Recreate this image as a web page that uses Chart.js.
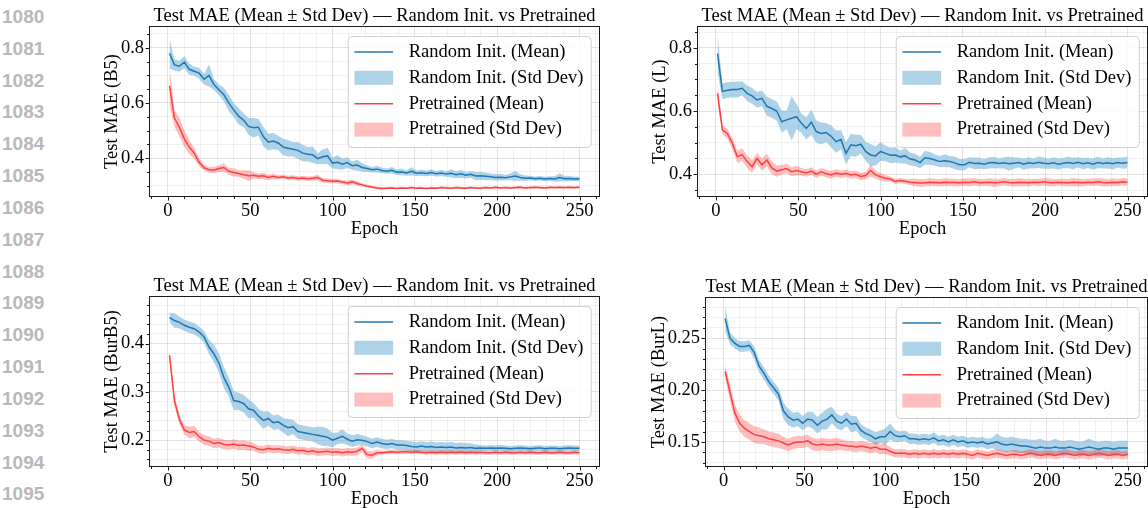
<!DOCTYPE html>
<html>
<head>
<meta charset="utf-8">
<script src="https://cdn.jsdelivr.net/npm/chart.js@4.4.1/dist/chart.umd.min.js"></script>
<style>
  html, body { margin: 0; padding: 0; background: #fff; }
  body { width: 1148px; height: 508px; overflow: hidden; position: relative; }
  canvas { position: absolute; }
  .lineno { position: absolute; left: 2px; font: bold 19px "Liberation Sans", Arial, sans-serif; color: #b8b8b8; line-height: 19px; }
</style>
</head>
<body>
<script>
// epochs sampled every 3rd epoch
const epochs = [1,4,7,10,13,16,19,22,25,28,31,34,
  37,40,43,46,49,52,55,58,61,64,67,70,
  73,76,79,82,85,88,91,94,97,100,103,106,
  109,112,115,118,121,124,127,130,133,136,139,142,
  145,148,151,154,157,160,163,166,169,172,175,178,
  181,184,187,190,193,196,199,202,205,208,211,214,
  217,220,223,226,229,232,235,238,241,244,247,250];

const lineNumbers = [1080,1081,1082,1083,1084,1085,1086,1087,1088,1089,1090,1091,1092,1093,1094,1095];

const xTicks = [0, 50, 100, 150, 200, 250];

// ---- B5 ----
const b5RandMean = [.780,.738,.733,.748,.722,.715,.708,.686,.700,.667,.648,.630,
  .600,.575,.552,.538,.515,.510,.512,.478,.458,.462,.455,.440,
  .436,.432,.428,.418,.414,.412,.398,.405,.408,.382,.385,.378,
  .384,.372,.375,.366,.362,.358,.360,.355,.352,.356,.349,.350,
  .346,.352,.345,.347,.344,.348,.343,.346,.342,.345,.340,.343,
  .338,.341,.335,.336,.334,.332,.330,.331,.329,.332,.335,.330,
  .327,.328,.325,.327,.324,.326,.324,.330,.325,.326,.324,.325];
const b5RandStd = [.055,.020,.020,.022,.020,.016,.020,.020,.040,.020,.020,.025,
  .030,.026,.030,.025,.030,.035,.030,.036,.030,.030,.026,.030,
  .030,.026,.030,.030,.026,.030,.020,.026,.030,.020,.025,.020,
  .020,.015,.020,.015,.012,.010,.012,.010,.010,.012,.010,.012,
  .010,.015,.010,.012,.010,.012,.010,.012,.010,.015,.012,.015,
  .012,.012,.015,.015,.014,.012,.012,.012,.010,.012,.018,.012,
  .010,.008,.008,.008,.008,.008,.010,.015,.010,.010,.008,.008];
const b5PreMean = [.662,.545,.512,.470,.440,.418,.385,.365,.358,.357,.362,.366,
  .352,.348,.344,.340,.336,.338,.334,.336,.330,.334,.330,.332,
  .328,.330,.326,.328,.325,.327,.330,.320,.318,.316,.317,.313,
  .310,.314,.308,.303,.298,.295,.292,.290,.291,.292,.290,.292,
  .291,.293,.291,.292,.290,.292,.291,.293,.292,.291,.293,.292,
  .291,.293,.292,.291,.293,.292,.294,.292,.293,.292,.293,.294,
  .292,.293,.294,.293,.292,.294,.293,.294,.293,.294,.293,.294];
const b5PreStd = [.070,.030,.035,.030,.025,.020,.015,.010,.010,.012,.012,.015,
  .012,.015,.012,.015,.020,.012,.010,.012,.010,.010,.008,.008,
  .008,.008,.008,.008,.008,.008,.010,.008,.008,.008,.008,.008,
  .008,.008,.008,.006,.005,.004,.004,.004,.004,.004,.004,.004,
  .004,.004,.004,.004,.004,.004,.004,.004,.004,.004,.004,.004,
  .004,.004,.004,.004,.004,.004,.004,.004,.004,.004,.004,.004,
  .004,.004,.004,.004,.004,.004,.004,.004,.004,.004,.004,.004];
const b5YTicks = [0.4, 0.6, 0.8];

// ---- L ----
const lRandMean = [.782,.662,.666,.668,.668,.672,.656,.648,.635,.640,.615,.608,
  .600,.566,.572,.577,.582,.561,.545,.565,.535,.529,.532,.520,
  .503,.510,.466,.493,.490,.495,.472,.461,.458,.472,.466,.460,
  .461,.455,.458,.448,.445,.437,.452,.450,.445,.440,.443,.440,
  .436,.430,.430,.438,.434,.435,.432,.436,.437,.434,.436,.433,
  .435,.437,.432,.436,.434,.438,.435,.433,.436,.432,.435,.437,
  .434,.438,.433,.436,.432,.437,.434,.436,.433,.437,.435,.437];
const lRandStd = [.060,.025,.025,.025,.025,.022,.025,.025,.025,.025,.030,.030,
  .030,.035,.030,.070,.040,.030,.035,.040,.035,.035,.030,.035,
  .035,.030,.035,.035,.035,.030,.030,.035,.030,.030,.025,.025,
  .025,.020,.025,.020,.020,.018,.022,.020,.018,.018,.020,.018,
  .020,.018,.018,.016,.018,.018,.016,.018,.018,.016,.018,.022,
  .018,.016,.018,.018,.016,.018,.018,.016,.018,.018,.016,.018,
  .018,.016,.018,.016,.018,.018,.016,.018,.018,.016,.018,.018];
const lPreMean = [.656,.540,.529,.498,.455,.462,.440,.424,.450,.430,.445,.420,
  .410,.414,.418,.408,.412,.408,.404,.410,.400,.408,.402,.398,
  .404,.400,.403,.398,.400,.393,.396,.412,.398,.392,.387,.385,
  .377,.380,.378,.375,.374,.372,.373,.375,.374,.373,.375,.374,
  .374,.373,.375,.374,.376,.373,.374,.375,.373,.374,.376,.374,
  .373,.375,.374,.373,.375,.374,.376,.374,.373,.375,.374,.373,
  .375,.374,.373,.375,.374,.376,.374,.373,.375,.374,.376,.375];
const lPreStd = [.030,.015,.015,.018,.020,.020,.020,.020,.018,.020,.020,.020,
  .018,.015,.015,.015,.015,.012,.012,.012,.012,.012,.012,.012,
  .012,.012,.012,.012,.012,.012,.012,.020,.012,.012,.010,.008,
  .008,.008,.008,.010,.012,.012,.012,.012,.012,.012,.012,.012,
  .012,.011,.012,.013,.012,.012,.011,.012,.013,.012,.012,.011,
  .012,.013,.012,.012,.011,.012,.012,.013,.012,.011,.012,.012,
  .013,.012,.012,.011,.012,.012,.013,.012,.012,.011,.012,.012];
const lYTicks = [0.4, 0.6, 0.8];

// ---- BurB5 ----
const burB5RandMean = [.454,.448,.444,.438,.434,.431,.424,.414,.393,.379,.360,.330,
  .310,.282,.280,.276,.265,.262,.250,.241,.245,.236,.238,.231,
  .226,.228,.218,.216,.214,.212,.210,.208,.206,.200,.204,.208,
  .202,.198,.201,.200,.197,.193,.196,.193,.191,.193,.190,.190,
  .189,.187,.186,.188,.186,.187,.185,.186,.185,.186,.184,.185,
  .184,.185,.183,.184,.183,.184,.183,.184,.183,.182,.183,.184,
  .183,.182,.183,.184,.182,.183,.183,.182,.183,.184,.183,.183];
const burB5RandStd = [.010,.015,.012,.012,.012,.012,.012,.012,.015,.018,.020,.022,
  .020,.020,.018,.018,.020,.015,.015,.018,.015,.015,.015,.015,
  .018,.015,.015,.015,.015,.015,.018,.020,.018,.015,.012,.015,
  .012,.012,.012,.010,.010,.010,.010,.010,.010,.010,.010,.010,
  .010,.010,.010,.010,.010,.010,.010,.010,.010,.010,.010,.010,
  .010,.008,.008,.006,.006,.006,.006,.006,.006,.006,.006,.006,
  .006,.006,.006,.006,.006,.006,.006,.006,.006,.006,.006,.006];
const burB5PreMean = [.376,.282,.243,.221,.216,.218,.207,.200,.198,.193,.195,.191,
  .190,.192,.189,.190,.188,.186,.181,.180,.183,.181,.182,.180,
  .179,.181,.178,.179,.176,.178,.175,.176,.177,.175,.176,.174,
  .176,.175,.177,.183,.170,.169,.174,.174,.175,.176,.175,.176,
  .176,.175,.176,.175,.174,.175,.174,.175,.174,.175,.174,.175,
  .174,.175,.174,.175,.174,.174,.175,.174,.175,.174,.174,.175,
  .174,.175,.174,.174,.175,.174,.174,.175,.174,.174,.175,.174];
const burB5PreStd = [.010,.012,.010,.010,.012,.012,.010,.010,.010,.010,.010,.010,
  .010,.010,.010,.010,.010,.008,.008,.008,.008,.008,.008,.008,
  .008,.008,.008,.008,.008,.008,.008,.008,.008,.008,.008,.008,
  .008,.008,.008,.008,.008,.008,.005,.004,.004,.004,.004,.004,
  .004,.004,.004,.004,.004,.004,.004,.004,.004,.004,.004,.004,
  .004,.004,.004,.004,.004,.004,.004,.004,.004,.004,.004,.004,
  .004,.004,.004,.004,.004,.004,.004,.004,.004,.004,.004,.004];
const burB5YTicks = [0.2, 0.3, 0.4];

// ---- BurL ----
const burLRandMean = [.269,.250,.245,.242,.242,.243,.236,.223,.216,.208,.202,.196,
  .180,.174,.171,.172,.168,.172,.171,.166,.170,.172,.176,.170,
  .168,.172,.167,.168,.161,.158,.156,.153,.155,.155,.160,.156,
  .155,.156,.153,.153,.152,.153,.152,.154,.151,.152,.150,.152,
  .150,.151,.149,.150,.149,.150,.148,.149,.150,.148,.147,.148,
  .147,.146,.146,.145,.144,.145,.144,.144,.145,.144,.144,.145,
  .144,.143,.144,.145,.144,.143,.144,.144,.143,.144,.144,.144];
const burLRandStd = [.012,.006,.005,.005,.005,.005,.006,.006,.006,.006,.006,.006,
  .008,.008,.007,.007,.007,.007,.008,.008,.008,.010,.008,.007,
  .007,.007,.008,.007,.006,.006,.006,.006,.006,.008,.008,.006,
  .005,.005,.005,.005,.005,.005,.005,.005,.005,.005,.005,.005,
  .005,.005,.005,.005,.005,.005,.005,.005,.008,.007,.007,.007,
  .007,.007,.007,.007,.008,.008,.007,.007,.008,.007,.007,.007,
  .007,.007,.007,.008,.007,.007,.007,.007,.007,.007,.007,.007];
const burLPreMean = [.218,.198,.178,.168,.163,.160,.157,.156,.155,.153,.152,.151,
  .149,.147,.149,.150,.150,.151,.148,.147,.148,.147,.147,.148,
  .147,.146,.146,.145,.146,.145,.144,.145,.143,.143,.141,.139,
  .139,.139,.138,.139,.138,.139,.138,.139,.138,.139,.138,.139,
  .138,.139,.138,.137,.139,.138,.137,.138,.139,.138,.137,.138,
  .138,.137,.138,.139,.138,.137,.138,.138,.137,.138,.139,.138,
  .137,.138,.138,.137,.138,.139,.138,.137,.138,.138,.137,.138];
const burLPreStd = [.006,.008,.008,.008,.008,.008,.008,.008,.007,.007,.007,.007,
  .006,.006,.006,.006,.006,.006,.006,.006,.006,.006,.006,.006,
  .005,.005,.005,.005,.005,.005,.005,.005,.005,.005,.004,.004,
  .004,.004,.004,.004,.004,.004,.004,.004,.004,.004,.004,.004,
  .004,.004,.004,.004,.004,.004,.004,.004,.004,.004,.004,.004,
  .004,.004,.004,.004,.004,.004,.004,.004,.004,.004,.004,.004,
  .004,.004,.004,.004,.004,.004,.004,.004,.004,.004,.004,.004];
const burLYTicks = [0.15, 0.20, 0.25];

const TITLE = 'Test MAE (Mean \u00b1 Std Dev) \u2014 Random Init. vs Pretrained';
const FONT = '"Liberation Serif", "Times New Roman", serif';
const FS = 18.5;
const BLUE = '#1f77b4', BLUE_FILL = 'rgba(107,174,214,0.55)';
const RED = '#ff4040', RED_FILL = 'rgba(255,0,0,0.25)';

const panels = [
  { left: 149, top: 26, right: 600, bottom: 197, yTitle: 'Test MAE (B5)', yMin: 0.259, yMax: 0.879,
    yTicks: b5YTicks, yStep: 0.05, digits: 1, rand: [b5RandMean, b5RandStd], pre: [b5PreMean, b5PreStd] },
  { left: 697, top: 26, right: 1148, bottom: 197, yTitle: 'Test MAE (L)', yMin: 0.328, yMax: 0.869,
    yTicks: lYTicks, yStep: 0.05, digits: 1, rand: [lRandMean, lRandStd], pre: [lPreMean, lPreStd] },
  { left: 149, top: 296, right: 600, bottom: 467, yTitle: 'Test MAE (BurB5)', yMin: 0.1444, yMax: 0.4987,
    yTicks: burB5YTicks, yStep: 0.02, digits: 1, rand: [burB5RandMean, burB5RandStd], pre: [burB5PreMean, burB5PreStd] },
  { left: 705, top: 297, right: 1148, bottom: 467, yTitle: 'Test MAE (BurL)', yMin: 0.1258, yMax: 0.2897,
    yTicks: burLYTicks, yStep: 0.01, digits: 2, rand: [burLRandMean, burLRandStd], pre: [burLPreMean, burLPreStd] }
];

const TH = 26, XH = 45, RP = 10;

lineNumbers.forEach((n, i) => {
  const d = document.createElement('div');
  d.className = 'lineno';
  d.textContent = n;
  d.style.top = (16.5 + 31.83 * i - 9.5) + 'px';
  document.body.appendChild(d);
});

function makeTicks(min, max, step, majors) {
  const out = [];
  for (let k = Math.ceil(min / step - 1e-9); k * step <= max + 1e-9; k++) {
    const v = Math.round(k * step * 1e6) / 1e6;
    out.push({ value: v, major: majors.some(m => Math.abs(m - v) < 1e-9) });
  }
  return out;
}

const pts = (mean, std, sign) => epochs.map((e, i) => ({ x: e, y: mean[i] + sign * std[i] }));

const gridColor = c => (c.tick && c.tick.major) ? 'rgba(0,0,0,0.11)' : 'rgba(0,0,0,0.055)';

// frame, tick marks, title and legend box drawn like matplotlib
const decor = {
  id: 'decor',
  afterDatasetsDraw(chart, args, opts) {
    const { ctx, chartArea: a } = chart;
    ctx.save();
    ctx.strokeStyle = '#1a1a1a';
    ctx.lineWidth = 1;
    ctx.strokeRect(a.left + 0.5, a.top + 0.5, a.right - a.left - 1, a.bottom - a.top - 1);

    ctx.beginPath();
    for (const s of [chart.scales.x, chart.scales.y]) {
      for (const t of s.ticks) {
        const p = Math.round(s.getPixelForValue(t.value)) + 0.5;
        const len = t.major ? 3.5 : 2;
        if (s.axis === 'x') { ctx.moveTo(p, a.bottom); ctx.lineTo(p, a.bottom + len); }
        else { ctx.moveTo(a.left, p); ctx.lineTo(a.left - len, p); }
      }
    }
    ctx.stroke();

    ctx.font = FS + 'px ' + FONT;
    ctx.fillStyle = '#000';
    ctx.textAlign = 'center';
    ctx.textBaseline = 'middle';
    ctx.fillText(opts.title, (a.left + a.right) / 2, a.top - 10.2);

    const items = chart.data.datasets.filter(d => d.legendRank).sort((p, q) => p.legendRank - q.legendRank);
    const lw = 243, lh = 111;
    const lx = a.right - 9.3 - lw, ly = a.top + 10;
    ctx.beginPath();
    ctx.roundRect(lx + 0.5, ly + 0.5, lw, lh, 4);
    ctx.fillStyle = 'rgba(255,255,255,0.85)';
    ctx.fill();
    ctx.strokeStyle = '#d0d0d0';
    ctx.stroke();
    items.forEach((d, i) => {
      const cy = ly + 15.9 + 25.9 * i;
      if (d.fill) {
        ctx.fillStyle = d.backgroundColor;
        ctx.fillRect(lx + 6.7, cy - 7, 38.7, 14);
      } else {
        ctx.strokeStyle = d.borderColor;
        ctx.lineWidth = 1.5;
        ctx.beginPath();
        ctx.moveTo(lx + 6.7, cy);
        ctx.lineTo(lx + 45.4, cy);
        ctx.stroke();
      }
      ctx.fillStyle = '#000';
      ctx.textAlign = 'left';
      ctx.fillText(d.label, lx + 61, cy);
    });
    ctx.restore();
  }
};

panels.forEach(p => {
  const yw = p.digits === 2 ? 69 : 60;
  const cv = document.createElement('canvas');
  const w = yw + (p.right - p.left) + RP;
  const h = TH + (p.bottom - p.top) + XH;
  cv.width = w; cv.height = h;
  cv.style.width = w + 'px'; cv.style.height = h + 'px';
  cv.style.left = (p.left - yw) + 'px';
  cv.style.top = (p.top - TH) + 'px';
  document.body.appendChild(cv);

  const tickFont = { family: FONT, size: FS, lineHeight: 1.2 };
  const band = { borderColor: 'rgba(0,0,0,0)', borderWidth: 0, pointRadius: 0 };
  new Chart(cv, {
    type: 'line',
    data: {
      datasets: [
        { ...band, label: '', data: pts(p.rand[0], p.rand[1], 1), fill: false, order: 4 },
        { ...band, label: 'Random Init. (Std Dev)', legendRank: 2, data: pts(p.rand[0], p.rand[1], -1),
          fill: '-1', backgroundColor: BLUE_FILL, order: 4 },
        { label: 'Random Init. (Mean)', legendRank: 1, data: pts(p.rand[0], p.rand[1], 0),
          borderColor: BLUE, borderWidth: 1.5, pointRadius: 0, fill: false, order: 3 },
        { ...band, label: '', data: pts(p.pre[0], p.pre[1], 1), fill: false, order: 2 },
        { ...band, label: 'Pretrained (Std Dev)', legendRank: 4, data: pts(p.pre[0], p.pre[1], -1),
          fill: '-1', backgroundColor: RED_FILL, order: 2 },
        { label: 'Pretrained (Mean)', legendRank: 3, data: pts(p.pre[0], p.pre[1], 0),
          borderColor: RED, borderWidth: 1.5, pointRadius: 0, fill: false, order: 1 }
      ]
    },
    options: {
      responsive: false,
      animation: false,
      devicePixelRatio: 1,
      layout: { padding: { top: TH, right: RP, left: 0, bottom: 0 } },
      elements: { line: { tension: 0 } },
      plugins: {
        legend: { display: false },
        tooltip: { enabled: false },
        decor: { title: TITLE }
      },
      scales: {
        x: {
          type: 'linear', min: -11.45, max: 262.45,
          afterFit: s => { s.height = XH; },
          afterBuildTicks: s => { s.ticks = makeTicks(s.min, s.max, 10, xTicks); },
          grid: { color: gridColor, lineWidth: 1, drawTicks: false },
          border: { display: false },
          ticks: { padding: 3, color: '#000', font: tickFont, maxRotation: 0, autoSkip: false,
            callback: (v, i, ts) => ts[i].major ? String(Math.round(v)) : '' },
          title: { display: true, text: 'Epoch', color: '#000', font: tickFont, padding: { top: 0, bottom: 1.5 } }
        },
        y: {
          type: 'linear', min: p.yMin, max: p.yMax,
          afterFit: s => { s.width = yw; },
          afterBuildTicks: s => { s.ticks = makeTicks(s.min, s.max, p.yStep, p.yTicks); },
          grid: { color: gridColor, lineWidth: 1, drawTicks: false },
          border: { display: false },
          ticks: { padding: 5, color: '#000', font: tickFont, autoSkip: false,
            callback: (v, i, ts) => ts[i].major ? v.toFixed(p.digits) : '' },
          title: { display: true, text: p.yTitle, color: '#000', font: tickFont, padding: { top: 11.7, bottom: 0 } }
        }
      }
    },
    plugins: [decor]
  });
});
</script>
</body>
</html>
